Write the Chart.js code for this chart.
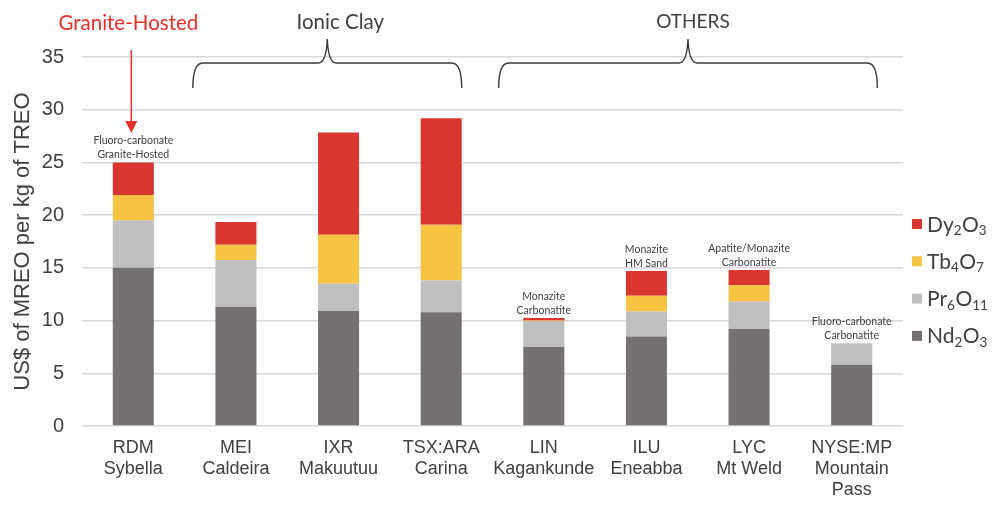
<!DOCTYPE html>
<html lang="en">
<head>
  <meta charset="UTF-8">
  <title>MREO basket value per kg TREO</title>
  <style>
    html, body { margin: 0; padding: 0; background: #fff; }
    #chartcontainer { width: 1000px; height: 512px; position: relative; }
  </style>
</head>
<body>
  <div id="chartcontainer">
    <canvas id="myChart"></canvas>
  </div>

  <script src="https://cdn.jsdelivr.net/npm/chart.js"></script>
  <script>
const categories = [
  ['RDM', 'Sybella'], ['MEI', 'Caldeira'], ['IXR', 'Makuutuu'], ['TSX:ARA', 'Carina'],
  ['LIN', 'Kagankunde'], ['ILU', 'Eneabba'], ['LYC', 'Mt Weld'], ['NYSE:MP', 'Mountain', 'Pass']
];
const nd2o3  = [15.0, 11.3, 10.9, 10.8, 7.5, 8.5, 9.2, 5.8];
const pr6o11 = [4.5, 4.45, 2.6, 3.0, 2.45, 2.35, 2.6, 2.05];
const tb4o7  = [2.4, 1.45, 4.65, 5.3, 0.05, 1.5, 1.55, 0];
const dy2o3  = [3.1, 2.15, 9.7, 10.1, 0.25, 2.35, 1.45, 0];
const yTicks = [0, 5, 10, 15, 20, 25, 30, 35];

const depositNotes = [
  ['Fluoro-carbonate', 'Granite-Hosted'], null, null, null,
  ['Monazite', 'Carbonatite'], ['Monazite', 'HM Sand'],
  ['Apatite/Monazite', 'Carbonatite'], ['Fluoro-carbonate', 'Carbonatite']
];
const groups = [
  { label: 'Ionic Clay', from: 1, to: 3 },
  { label: 'OTHERS', from: 4, to: 7 }
];
const highlight = { label: 'Granite-Hosted', index: 0 };

const series = [
  { label: 'Nd2O3', data: nd2o3, color: '#767171' },
  { label: 'Pr6O11', data: pr6o11, color: '#BFBFBF' },
  { label: 'Tb4O7', data: tb4o7, color: '#F6C343' },
  { label: 'Dy2O3', data: dy2o3, color: '#DA3630' },
];

const TEXT = '#404040';

// brace extents, in category steps relative to the first / last bar centre
const bracePad = [[-0.42, 0.2], [-0.44, 0.25]];

function drawBrace(ctx, left, right, yTip, yMid, yEnd) {
  const tip = (left + right) / 2;
  ctx.beginPath();
  ctx.moveTo(left, yEnd);
  ctx.quadraticCurveTo(left, yMid, left + 10, yMid);
  ctx.lineTo(tip - 9, yMid);
  ctx.quadraticCurveTo(tip - 1, yMid, tip, yTip);
  ctx.quadraticCurveTo(tip + 1, yMid, tip + 9, yMid);
  ctx.lineTo(right - 10, yMid);
  ctx.quadraticCurveTo(right, yMid, right, yEnd);
  ctx.stroke();
}

const annotations = {
  id: 'annotations',
  afterDraw(chart) {
    const ctx = chart.ctx;
    const x = chart.scales.x, y = chart.scales.y;
    const step = x.getPixelForValue(1) - x.getPixelForValue(0);
    ctx.save();

    // deposit type notes above bars
    ctx.font = '10.5px Lato';
    ctx.fillStyle = TEXT;
    ctx.textAlign = 'center';
    ctx.textBaseline = 'alphabetic';
    depositNotes.forEach((note, i) => {
      if (!note) return;
      const total = nd2o3[i] + pr6o11[i] + tb4o7[i] + dy2o3[i];
      const top = y.getPixelForValue(total);
      const cx = x.getPixelForValue(i);
      ctx.fillText(note[1], cx, top - 4);
      ctx.fillText(note[0], cx, top - 18);
    });

    // group braces
    ctx.strokeStyle = '#3a3a3a';
    ctx.lineWidth = 1.4;
    groups.forEach((g, k) => {
      const l = x.getPixelForValue(g.from) + bracePad[k][0] * step;
      const r = x.getPixelForValue(g.to) + bracePad[k][1] * step;
      drawBrace(ctx, l, r, 39, 63, 88);
      ctx.fillStyle = TEXT;
      ctx.textBaseline = 'middle';
      ctx.font = k === 0 ? '20.5px Lato' : '19px Lato';
      ctx.fillText(g.label, (l + r) / 2 + (k === 0 ? 13 : 5), 22);
    });

    // red highlight label + arrow
    const hx = x.getPixelForValue(highlight.index);
    ctx.font = '20.5px Lato';
    ctx.fillStyle = '#E8302A';
    ctx.strokeStyle = '#E8302A';
    ctx.fillText(highlight.label, hx - 5, 23);
    ctx.lineWidth = 1.5;
    ctx.beginPath();
    ctx.moveTo(hx - 2, 50);
    ctx.lineTo(hx - 2, 124);
    ctx.stroke();
    ctx.beginPath();
    ctx.moveTo(hx - 8, 121);
    ctx.lineTo(hx + 4, 121);
    ctx.lineTo(hx - 2, 133);
    ctx.closePath();
    ctx.fill();

    // legend with subscripts
    const items = series.slice().reverse();
    items.forEach((s, i) => {
      const cy = 224 + i * 37.3;
      ctx.fillStyle = s.color;
      ctx.fillRect(912, cy - 5, 10, 10);
      ctx.fillStyle = TEXT;
      ctx.textAlign = 'left';
      ctx.textBaseline = 'alphabetic';
      let px = 927;
      s.label.match(/[A-Za-z]+|\d+/g).forEach(part => {
        const sub = /\d/.test(part);
        ctx.font = sub ? '13.5px Lato' : '21px Lato';
        ctx.fillText(part, px, cy + (sub ? 11 : 7.5));
        px += ctx.measureText(part).width + (sub ? 0.5 : 0);
      });
    });

    ctx.restore();
  }
};

let chart;

function drawChart() {
  const ctx = document.getElementById('myChart').getContext('2d');
  if (chart) chart.destroy();

  chart = new Chart(ctx, {
    type: 'bar',
    data: {
      labels: categories,
      datasets: series.map(s => ({
        label: s.label,
        data: s.data,
        backgroundColor: s.color,
        borderWidth: 0,
        barPercentage: 0.4,
        categoryPercentage: 1.0,
      })),
    },
    options: {
      responsive: true,
      maintainAspectRatio: false,
      animation: false,
      layout: { padding: { top: 57, right: 97, left: 0, bottom: 0 } },
      plugins: {
        legend: { display: false },
        tooltip: { enabled: false },
      },
      scales: {
        x: {
          stacked: true,
          grid: { display: false },
          border: { display: false },
          ticks: {
            autoSkip: false,
            maxRotation: 0,
            padding: 4,
            color: TEXT,
            font: { family: "'Liberation Sans'", size: 18, lineHeight: 1.15 },
          },
          afterFit: s => { s.height = 86; },
        },
        y: {
          stacked: true,
          min: 0,
          max: 35,
          afterBuildTicks: s => { s.ticks = yTicks.map(v => ({ value: v })); },
          grid: { color: '#d9d9d9', lineWidth: 1.5, drawTicks: false },
          border: { display: false },
          ticks: {
            padding: 18,
            color: TEXT,
            font: { family: "'Liberation Sans'", size: 20 },
          },
          title: {
            display: true,
            text: 'US$ of MREO per kg of TREO',
            color: TEXT,
            padding: { top: 10, bottom: 0 },
            font: { family: "'Liberation Sans'", size: 22 },
          },
          afterFit: s => { s.width = 82; },
        }
      }
    },
    plugins: [annotations]
  });
}

drawChart();
  </script>
</body>
</html>
